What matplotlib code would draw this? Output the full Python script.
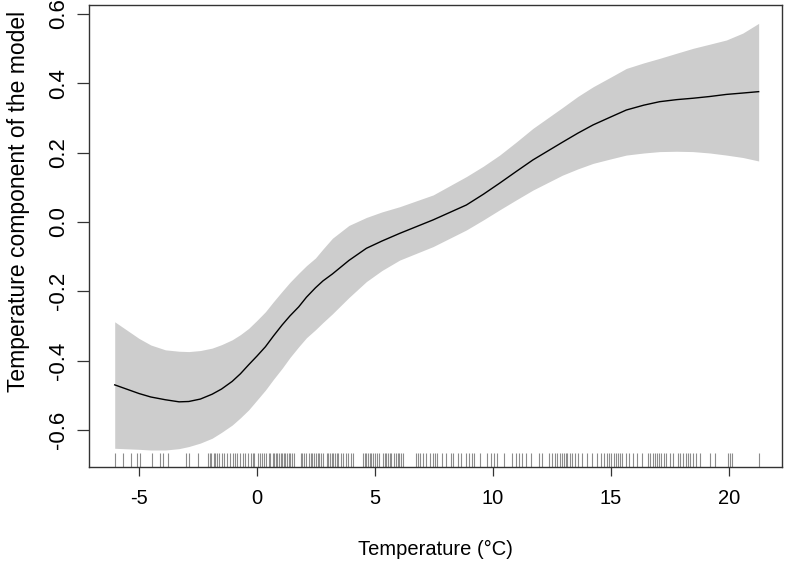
import matplotlib
matplotlib.use("Agg")
import matplotlib.pyplot as plt
import matplotlib.transforms as mtransforms

# ---- data ----
temp_grid = [-6.03, -5.0, -4.5, -3.88, -3.3, -2.89, -2.4, -1.9, -1.5, -1.05, -0.7, -0.35,
             0.0, 0.36, 0.7, 1.07, 1.4, 1.77, 2.1, 2.48, 2.8, 3.2, 3.9, 4.64, 5.3, 6.05,
             7.47, 8.88, 9.6, 10.29, 11.0, 11.7, 12.95, 13.6, 14.25, 15.0, 15.66, 16.4,
             17.07, 17.8, 18.49, 19.2, 19.9, 20.6, 21.27]
fit = [-0.470, -0.495, -0.505, -0.513, -0.519, -0.518, -0.511, -0.497, -0.482, -0.460,
       -0.438, -0.412, -0.387, -0.360, -0.329, -0.297, -0.271, -0.245, -0.217, -0.190,
       -0.170, -0.150, -0.111, -0.076, -0.055, -0.033, 0.006, 0.049, 0.080, 0.112,
       0.146, 0.179, 0.230, 0.256, 0.280, 0.303, 0.323, 0.337, 0.347, 0.353, 0.357,
       0.362, 0.368, 0.372, 0.376]
upper = [-0.288, -0.336, -0.355, -0.369, -0.373, -0.374, -0.371, -0.364, -0.354, -0.340,
         -0.325, -0.307, -0.284, -0.259, -0.230, -0.200, -0.174, -0.148, -0.126, -0.104,
         -0.078, -0.047, -0.010, 0.013, 0.029, 0.044, 0.078, 0.131, 0.161, 0.193,
         0.231, 0.270, 0.330, 0.362, 0.390, 0.418, 0.443, 0.459, 0.472, 0.487, 0.501,
         0.513, 0.525, 0.545, 0.573]
lower = [-0.653, -0.656, -0.658, -0.658, -0.654, -0.648, -0.638, -0.624, -0.607, -0.586,
         -0.565, -0.542, -0.514, -0.485, -0.454, -0.422, -0.391, -0.360, -0.334, -0.311,
         -0.290, -0.265, -0.218, -0.172, -0.140, -0.110, -0.071, -0.023, 0.006, 0.035,
         0.064, 0.092, 0.135, 0.153, 0.169, 0.182, 0.193, 0.199, 0.203, 0.204, 0.203,
         0.199, 0.193, 0.186, 0.176]

rug_temps = [
    -6.03, -5.66, -5.36, -5.07, -4.97, -4.47, -4.12, -3.98, -3.78, -3.02, -2.86, -2.48,
    -2.07, -2.0, -1.93, -1.84, -1.77, -1.69, -1.61, -1.50, -1.38, -1.29, -1.14, -1.01,
    -0.91, -0.84, -0.73, -0.59, -0.49, -0.39, -0.25, -0.17, -0.11, 0.05, 0.12, 0.22,
    0.32, 0.40, 0.49, 0.57, 0.66, 0.72, 0.79, 0.86, 0.93, 1.0, 1.07, 1.14, 1.21, 1.28,
    1.35, 1.42, 1.5, 1.57, 1.86, 1.93, 2.0, 2.07, 2.2, 2.28, 2.35, 2.42, 2.5, 2.57,
    2.64, 2.71, 2.78, 2.96, 3.03, 3.1, 3.17, 3.24, 3.31, 3.38, 3.45, 3.55, 3.66, 3.76,
    3.86, 4.0, 4.07, 4.5, 4.57, 4.64, 4.71, 4.78, 4.85, 4.92, 4.99, 5.1, 5.17, 5.35,
    5.42, 5.49, 5.56, 5.63, 5.7, 5.83, 5.9, 5.97, 6.04, 6.11, 6.18, 6.73, 6.82, 6.93,
    7.04, 7.18, 7.32, 7.46, 7.55, 7.65, 7.86, 8.0, 8.22, 8.31, 8.53, 8.64, 8.85, 8.99,
    9.11, 9.2, 9.47, 9.77, 9.91, 10.05, 10.19, 10.48, 10.8, 10.97, 11.11, 11.23, 11.42,
    11.61, 11.96, 12.07, 12.38, 12.53, 12.62, 12.74, 12.84, 12.95, 13.02, 13.09, 13.16,
    13.27, 13.37, 13.49, 13.6, 13.8, 14.01, 14.22, 14.43, 14.57, 14.70, 14.82, 14.93,
    15.03, 15.12, 15.24, 15.31, 15.38, 15.49, 15.66, 15.77, 15.94, 16.11, 16.34, 16.58,
    16.68, 16.79, 16.88, 16.96, 17.05, 17.15, 17.24, 17.36, 17.5, 17.64, 17.85, 17.95,
    18.06, 18.18, 18.27, 18.38, 18.49, 18.6, 18.77, 19.19, 19.41, 19.97, 20.07, 20.16,
    21.27]

x_ticks = [-5, 0, 5, 10, 15, 20]
y_ticks = [-0.6, -0.4, -0.2, 0.0, 0.2, 0.4, 0.6]
y_tick_labels = ["-0.6", "-0.4", "-0.2", "0.0", "0.2", "0.4", "0.6"]
x_label = "Temperature (°C)"
y_label = "Temperature component of the model"

plt.rcParams['font.family'] = ['Liberation Sans', 'DejaVu Sans']

fig = plt.figure(figsize=(7.87, 5.62), dpi=100)
ax = fig.add_axes([89 / 787, 1 - 467 / 562, (782 - 89) / 787, (467 - 5) / 562])

ax.fill_between(temp_grid, lower, upper, color="#cdcdcd", linewidth=0)
ax.plot(temp_grid, fit, color="black", linewidth=1.0, solid_joinstyle="round")

trans = mtransforms.blended_transform_factory(ax.transData, ax.transAxes)
ax.vlines(rug_temps, 0, 0.03, transform=trans, color="#8c8c8c", linewidth=0.8)

ax.set_xlim(-7.12, 22.26)
ax.set_ylim(-0.707, 0.626)

ax.set_xticks(x_ticks)
ax.set_xticklabels([str(v) for v in x_ticks])
ax.set_yticks(y_ticks)
ax.set_yticklabels(y_tick_labels, rotation=90, va="center")

ax.tick_params(axis="x", direction="out", length=6.7, width=0.9, color="#333333",
               labelsize=14.5, pad=9.5)
ax.tick_params(axis="y", direction="out", length=8.6, width=0.9, color="#333333",
               labelsize=16, pad=6)
for s in ax.spines.values():
    s.set_color("#333333")
    s.set_linewidth(1.0)

ax.set_xlabel(x_label, fontsize=14.5, labelpad=22.5)
ax.set_ylabel(y_label, fontsize=16.5, labelpad=13, y=0.575)

fig.savefig("out.png", dpi=100)
